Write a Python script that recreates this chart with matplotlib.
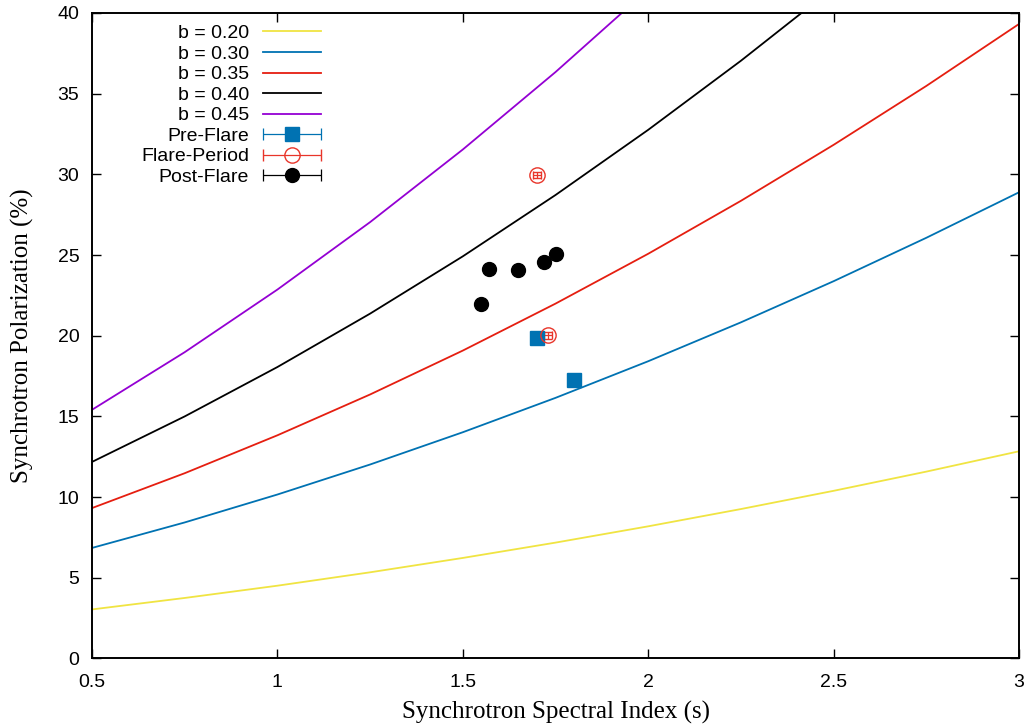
import numpy as np
import matplotlib
matplotlib.use("Agg")
import matplotlib.pyplot as plt
from matplotlib.container import ErrorbarContainer
from matplotlib.legend_handler import HandlerErrorbar

# spectral index grid
s_grid = [0.5, 0.75, 1.0, 1.25, 1.5, 1.75, 2.0, 2.25, 2.5, 2.75, 3.0]

# model curves (polarization %)
pol_b020 = [3.04, 3.75, 4.51, 5.34, 6.23, 7.18, 8.19, 9.26, 10.39, 11.58, 12.84]
pol_b030 = [6.85, 8.43, 10.16, 12.02, 14.02, 16.15, 18.42, 20.83, 23.38, 26.07, 28.89]
pol_b035 = [9.32, 11.48, 13.83, 16.36, 19.08, 21.99, 25.08, 28.36, 31.83, 35.48, 39.32]
pol_b040 = [12.18, 15.00, 18.06, 21.37, 24.92, 28.72, 32.76, 37.04, 41.57, 46.34, 51.36]
pol_b045 = [15.41, 18.98, 22.86, 27.04, 31.54, 36.34, 41.46, 46.88, 52.61, 58.65, 65.00]

curve_labels = ["b = 0.20", "b = 0.30", "b = 0.35", "b = 0.40", "b = 0.45"]

# observations
pre_s = [1.70, 1.80]
pre_p = [19.83, 17.27]
flare_s = [1.70, 1.73]
flare_p = [29.97, 20.02]
post_s = [1.55, 1.57, 1.65, 1.72, 1.75]
post_p = [21.94, 24.14, 24.05, 24.59, 25.09]
s_err = 0.01
p_err = 0.2

curves = [pol_b020, pol_b030, pol_b035, pol_b040, pol_b045]
colors = ["#f0e442", "#0072b2", "#e51e10", "#000000", "#9400d3"]
flare_col = "#e8352a"

fig = plt.figure(figsize=(10.31, 7.26), dpi=100)
ax = fig.add_axes([0.0892, 0.0930, 0.8992, 0.8891])

for vals, lab, col in zip(curves, curve_labels, colors):
    ax.plot(s_grid, vals, color=col, lw=1.3, label=lab)

eb_kw = dict(capsize=3, elinewidth=0.9, capthick=0.9, ls="none")
ax.errorbar(pre_s, pre_p, xerr=s_err, yerr=p_err, fmt="s", ms=10,
            color="#0072b2", ecolor="#0072b2", **eb_kw)
ax.errorbar(flare_s, flare_p, xerr=s_err, yerr=p_err, fmt="o", ms=11,
            mfc="none", mec=flare_col, mew=1.0, ecolor=flare_col, **eb_kw)
ax.errorbar(post_s, post_p, xerr=s_err, yerr=p_err, fmt="o", ms=10,
            color="black", ecolor="black", **eb_kw)

# legend proxies: gnuplot-style keys with horizontal bar only
leg_kw = dict(capsize=4, elinewidth=0.9, capthick=0.9, ls="none")
ax.errorbar([np.nan], [np.nan], xerr=[1], fmt="s", ms=10, color="#0072b2",
            label="Pre-Flare", **leg_kw)
ax.errorbar([np.nan], [np.nan], xerr=[1], fmt="o", ms=11, mfc="none",
            mec=flare_col, mew=1.0, ecolor=flare_col, label="Flare-Period", **leg_kw)
ax.errorbar([np.nan], [np.nan], xerr=[1], fmt="o", ms=10, color="black",
            label="Post-Flare", **leg_kw)

ax.set_xlim(0.5, 3.0)
ax.set_ylim(0, 40)
ax.set_xticks([0.5, 1, 1.5, 2, 2.5, 3])
ax.set_xticklabels(["0.5", "1", "1.5", "2", "2.5", "3"])
ax.set_yticks(range(0, 41, 5))

for sp in ax.spines.values():
    sp.set_linewidth(1.4)
ax.tick_params(direction="in", length=6.5, width=1.0, top=True, right=True,
               labelsize=14)
ax.tick_params(axis="x", pad=11)
ax.tick_params(axis="y", pad=9)
for t in ax.get_xticklabels() + ax.get_yticklabels():
    t.set_family("Liberation Sans")

ax.set_xlabel("Synchrotron Spectral Index (s)", family="Liberation Serif",
              fontsize=18, labelpad=7)
ax.set_ylabel("Synchrotron Polarization (%)", family="Liberation Serif",
              fontsize=18, labelpad=17)

leg = ax.legend(loc="upper right", bbox_to_anchor=(0.2595, 1.0), frameon=False,
                markerfirst=False, handlelength=3.0, handletextpad=0.7,
                labelspacing=0.15, borderaxespad=0.2,
                handler_map={ErrorbarContainer: HandlerErrorbar(xerr_size=1.5)},
                prop={"family": "Liberation Sans", "size": 14})

fig.savefig("out.png", dpi=100)
